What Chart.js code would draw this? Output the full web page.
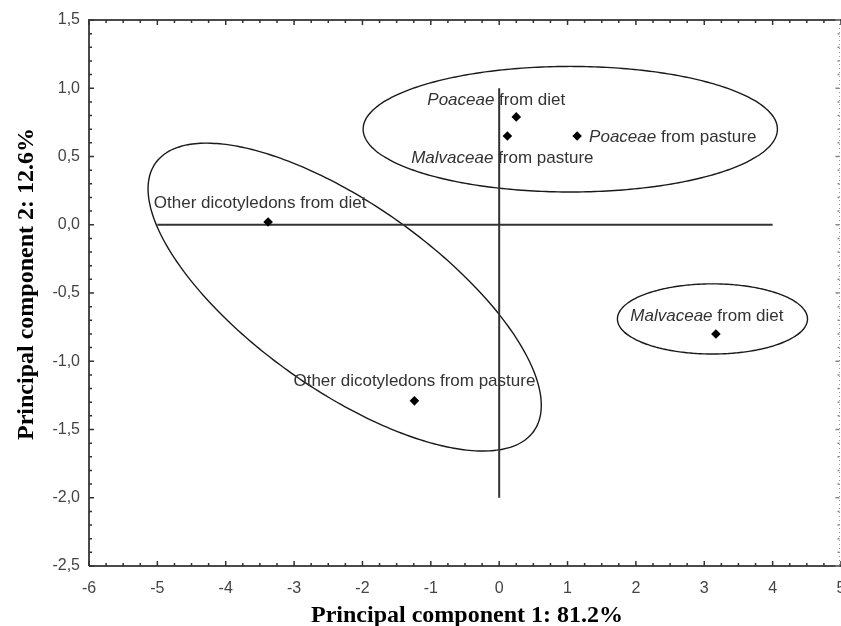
<!DOCTYPE html>
<html><head><meta charset="utf-8">
<script src="https://cdn.jsdelivr.net/npm/chart.js@4.4.1/dist/chart.umd.min.js"></script>
<style>html,body{margin:0;padding:0;background:#fff;overflow:hidden;} #wrap{width:880px;height:626px;}</style>
</head><body><div id="wrap"><canvas id="c" width="880" height="626"></canvas></div>
<script>
// ---- data ----
const pointNames = ['Other dicotyledons from diet', 'Other dicotyledons from pasture', 'Poaceae from diet', 'Malvaceae from pasture', 'Poaceae from pasture', 'Malvaceae from diet'];
const italicParts = ['', '', 'Poaceae', 'Malvaceae', 'Poaceae', 'Malvaceae'];
const pc1 = [-3.38, -1.24, 0.25, 0.12, 1.14, 3.17];
const pc2 = [0.02, -1.29, 0.79, 0.65, 0.65, -0.80];

const xTickValues = [-6, -5, -4, -3, -2, -1, 0, 1, 2, 3, 4, 5];
const xTickLabels = ['-6', '-5', '-4', '-3', '-2', '-1', '0', '1', '2', '3', '4', '5'];
const yTickValues = [-2.5, -2, -1.5, -1, -0.5, 0, 0.5, 1, 1.5];
const yTickLabels = ['-2,5', '-2,0', '-1,5', '-1,0', '-0,5', '0,0', '0,5', '1,0', '1,5'];

// reference cross lines (data units)
const hLineX = [-5, 4];
const hLineY = [0, 0];
const vLineX = [0, 0];
const vLineY = [-2, 1];

// ellipses: centre + two semi-diameter vectors (data units)
const ellipseCx = [1.04, -2.26, 3.12];
const ellipseCy = [0.70, -0.53, -0.69];
const ellipseUx = [3.03, 2.876, 1.39];
const ellipseUy = [0, -0.793, 0];
const ellipseVx = [0, 0, 0];
const ellipseVy = [0.46, 0.802, 0.257];

const xTitle = 'Principal component 1: 81.2%';
const yTitle = 'Principal component 2: 12.6%';

// ---- label styling (pixel offsets relative to point) ----
const labelDx = [-8, 0, -20, -5, 12, -9];
const labelDy = [-19, -20, -17, 22, 1, -18];
const labelAlign = ['center', 'center', 'center', 'center', 'left', 'center'];

function ellipsePoints(i) {
  const pts = [];
  const n = 160;
  for (let k = 0; k <= n; k++) {
    const t = k / n * 2 * Math.PI;
    pts.push({
      x: ellipseCx[i] + ellipseUx[i] * Math.cos(t) + ellipseVx[i] * Math.sin(t),
      y: ellipseCy[i] + ellipseUy[i] * Math.cos(t) + ellipseVy[i] * Math.sin(t)
    });
  }
  return pts;
}

const datasets = [];
for (let i = 0; i < ellipseCx.length; i++) {
  datasets.push({ data: ellipsePoints(i), showLine: true, pointRadius: 0, borderColor: '#1a1a1a', borderWidth: 1.4, tension: 0.2, fill: false, order: 3 });
}
datasets.push({ data: hLineX.map((x, i) => ({ x, y: hLineY[i] })), showLine: true, pointRadius: 0, borderColor: '#333', borderWidth: 2, order: 2 });
datasets.push({ data: vLineX.map((x, i) => ({ x, y: vLineY[i] })), showLine: true, pointRadius: 0, borderColor: '#333', borderWidth: 2, order: 2 });
datasets.push({ data: pc1.map((x, i) => ({ x, y: pc2[i] })), showLine: false, pointStyle: 'rectRot', pointRadius: 4.8, backgroundColor: '#000', borderColor: '#000', borderWidth: 0, order: 1 });

const frame = {
  id: 'frame',
  afterDatasetsDraw(chart) {
    const { ctx, chartArea: a, scales: { x, y } } = chart;
    ctx.save();
    // borders
    ctx.strokeStyle = '#4a4a4a';
    ctx.lineWidth = 2;
    ctx.beginPath();
    ctx.moveTo(a.left, a.bottom); ctx.lineTo(a.left, a.top); ctx.lineTo(a.right, a.top);
    ctx.moveTo(a.left, a.bottom); ctx.lineTo(a.right, a.bottom);
    ctx.stroke();
    ctx.strokeStyle = '#9a9a9a';
    ctx.lineWidth = 1;
    ctx.setLineDash([1, 3]);
    ctx.beginPath();
    ctx.moveTo(a.right - 1.5, a.top); ctx.lineTo(a.right - 1.5, a.bottom);
    ctx.stroke();
    ctx.setLineDash([]);
    // minor / major ticks
    ctx.strokeStyle = '#333';
    ctx.lineWidth = 1.5;
    ctx.beginPath();
    for (let k = 0; k <= 44; k++) {
      const v = x.min + k * 0.25;
      const px = x.getPixelForValue(v);
      const len = (k % 4 === 0) ? 5 : 3;
      ctx.moveTo(px, a.bottom); ctx.lineTo(px, a.bottom - len);
      ctx.moveTo(px, a.top); ctx.lineTo(px, a.top + len);
    }
    for (let k = 0; k <= 40; k++) {
      const v = y.min + k * 0.1;
      const py = y.getPixelForValue(v);
      const len = (k % 5 === 0) ? 5 : 3;
      ctx.moveTo(a.left, py); ctx.lineTo(a.left + len, py);
    }
    ctx.stroke();
    ctx.strokeStyle = '#888';
    ctx.beginPath();
    for (let k = 0; k <= 40; k++) {
      const v = y.min + k * 0.1;
      const py = y.getPixelForValue(v);
      const len = (k % 5 === 0) ? 4 : 2;
      ctx.moveTo(a.right - 1.5, py); ctx.lineTo(a.right - 1.5 - len, py);
    }
    ctx.stroke();
    // point labels
    ctx.fillStyle = '#333';
    ctx.textBaseline = 'middle';
    const normalFont = '17px "Liberation Sans", Arial, sans-serif';
    const italicFont = 'italic 17px "Liberation Sans", Arial, sans-serif';
    for (let i = 0; i < pointNames.length; i++) {
      const name = pointNames[i];
      const it = italicParts[i];
      const rest = it ? name.slice(it.length) : name;
      ctx.font = italicFont;
      const wi = it ? ctx.measureText(it).width : 0;
      ctx.font = normalFont;
      const wr = ctx.measureText(rest).width;
      const total = wi + wr;
      const px = x.getPixelForValue(pc1[i]) + labelDx[i];
      const py = y.getPixelForValue(pc2[i]) + labelDy[i];
      const sx = labelAlign[i] === 'center' ? px - total / 2 : px;
      ctx.textAlign = 'left';
      if (it) { ctx.font = italicFont; ctx.fillText(it, sx, py); }
      ctx.font = normalFont;
      ctx.fillText(rest, sx + wi, py);
    }
    // axis titles
    ctx.fillStyle = '#000';
    ctx.font = 'bold 24px "Liberation Serif", "Times New Roman", serif';
    ctx.textAlign = 'center';
    ctx.textBaseline = 'alphabetic';
    ctx.fillText(xTitle, (a.left + a.right) / 2 + 2, 621.5);
    ctx.translate(33, (a.top + a.bottom) / 2 - 9);
    ctx.rotate(-Math.PI / 2);
    ctx.fillText(yTitle, 0, 0);
    ctx.restore();
  }
};

new Chart(document.getElementById('c'), {
  type: 'scatter',
  data: { datasets },
  options: {
    responsive: false,
    animation: false,
    layout: { padding: { left: 0, right: 39, top: 20, bottom: 0 } },
    plugins: { legend: { display: false }, tooltip: { enabled: false } },
    scales: {
      x: {
        type: 'linear', min: -6, max: 5,
        afterBuildTicks: s => { s.ticks = xTickValues.map(v => ({ value: v })); },
        afterFit: s => { s.height = 60; },
        grid: { display: false, drawTicks: false },
        border: { display: false },
        ticks: { autoSkip: false, maxRotation: 0, padding: 13, color: '#444', font: { family: '"Liberation Sans", Arial, sans-serif', size: 16 },
          callback: v => xTickLabels[xTickValues.indexOf(v)] },
        title: { display: false, text: xTitle }
      },
      y: {
        type: 'linear', min: -2.5, max: 1.5,
        afterBuildTicks: s => { s.ticks = yTickValues.map(v => ({ value: v })); },
        afterFit: s => { s.width = 89; },
        grid: { display: false, drawTicks: false },
        border: { display: false },
        ticks: { autoSkip: false, padding: 9, color: '#444', font: { family: '"Liberation Sans", Arial, sans-serif', size: 16 },
          callback: v => yTickLabels[yTickValues.indexOf(v)] },
        title: { display: false, text: yTitle }
      }
    }
  },
  plugins: [frame]
});
</script>
</body></html>
